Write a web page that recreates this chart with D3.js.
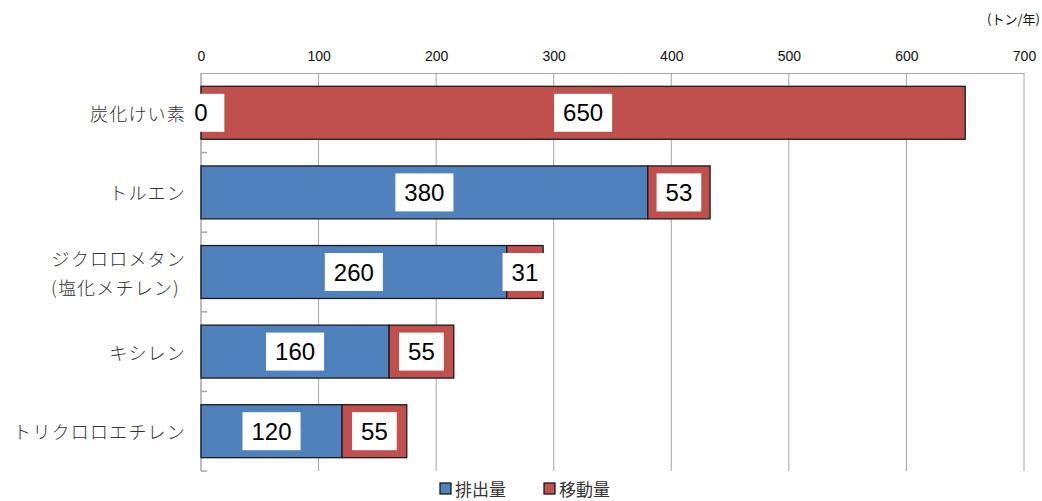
<!DOCTYPE html>
<html><head><meta charset="utf-8">
<script src="https://cdn.jsdelivr.net/npm/d3@7"></script>
<style>
html,body{margin:0;padding:0;background:#fff;}
svg{display:block;}
</style></head>
<body>
<svg id="chart" width="1042" height="501"></svg>
<script>
const categories = ["炭化けい素", "トルエン", "ジクロロメタン\n(塩化メチレン)", "キシレン", "トリクロロエチレン"];
const emissions = [0, 380, 260, 160, 120];
const transfers = [650, 53, 31, 55, 55];
const tickValues = [0, 100, 200, 300, 400, 500, 600, 700];
const seriesNames = ["排出量", "移動量"];
const unitLabel = "(トン/年)";

const colors = ["#4F81BD", "#C0504D"];
const svg = d3.select("#chart");
const margin = {left: 201, right: 18, top: 73, bottom: 30};
const W = 1042, H = 501;
const x = d3.scaleLinear().domain([0, 700]).range([margin.left, W - margin.right]);
const y = d3.scaleBand().domain(d3.range(categories.length)).range([margin.top, H - margin.bottom]).paddingInner(0.335).paddingOuter(0.1675);

const jp = "'Noto Sans CJK JP', 'Noto Sans', sans-serif";
const num = "'Liberation Sans', Arial, sans-serif";

// gridlines
svg.append("g").selectAll("line").data(tickValues.slice(1)).join("line")
  .attr("x1", d => x(d)).attr("x2", d => x(d))
  .attr("y1", margin.top).attr("y2", H - margin.bottom)
  .attr("stroke", "#a6a6a6").attr("stroke-width", 1);

// top axis
const topAxis = d3.axisTop(x).tickValues(tickValues).tickSize(0).tickPadding(12).tickFormat(d3.format("d"));
const gTop = svg.append("g").attr("transform", `translate(0,${margin.top})`).call(topAxis);
gTop.select(".domain").attr("stroke", "#a6a6a6");
gTop.selectAll("text").attr("font-family", num).attr("font-size", 14).attr("fill", "#111");

// left axis line and ticks at band boundaries
const bounds = d3.range(categories.length + 1).map(i => margin.top + i * (H - margin.bottom - margin.top) / categories.length);
svg.append("line").attr("x1", margin.left).attr("x2", margin.left)
  .attr("y1", margin.top).attr("y2", H - margin.bottom).attr("stroke", "#a6a6a6").attr("stroke-width", 1.5);
svg.append("g").selectAll("line").data(bounds.slice(1)).join("line")
  .attr("x1", margin.left).attr("x2", margin.left + 6)
  .attr("y1", d => d).attr("y2", d => d)
  .attr("stroke", "#a6a6a6").attr("stroke-width", 1.5);

// bars
const rows = categories.map((c, i) => ({i, vals: [emissions[i], transfers[i]]}));
const segs = [];
rows.forEach(r => {
  let acc = 0;
  r.vals.forEach((v, s) => { segs.push({i: r.i, s, v, x0: acc, x1: acc + v}); acc += v; });
});
svg.append("g").selectAll("rect").data(segs.filter(d => d.v > 0)).join("rect")
  .attr("x", d => x(d.x0)).attr("width", d => x(d.x1) - x(d.x0))
  .attr("y", d => y(d.i)).attr("height", y.bandwidth())
  .attr("fill", d => colors[d.s]).attr("stroke", "#1a1a1a").attr("stroke-width", 1.3);

// data labels with white boxes
const lab = svg.append("g");
segs.forEach(d => {
  const cx = (x(d.x0) + x(d.x1)) / 2;
  const cy = y(d.i) + y.bandwidth() / 2;
  const g = lab.append("g");
  const rect = g.append("rect").attr("fill", "#fff");
  const t = g.append("text").attr("x", cx).attr("y", cy).attr("text-anchor", "middle")
    .attr("dominant-baseline", "central").attr("font-family", num).attr("font-size", 24)
    .attr("fill", "#000").text(d.v);
  const w = t.node().getComputedTextLength() + 18;
  const rx = d.v === 0 ? cx - 8 : cx - w / 2;
  rect.attr("x", rx).attr("width", w).attr("y", cy - 19).attr("height", 38);
});

// category labels
categories.forEach((c, i) => {
  const lines = c.split("\n");
  const cy = y(i) + y.bandwidth() / 2;
  lines.forEach((ln, k) => {
    svg.append("text").attr("x", 186 - (k > 0 ? 6 : 0))
      .attr("y", cy + (k - (lines.length - 1) / 2) * 29)
      .attr("text-anchor", "end").attr("dominant-baseline", "central")
      .attr("font-family", jp).attr("font-weight", 300).attr("font-size", 18)
      .attr("letter-spacing", 1.2).attr("fill", "#333").text(ln);
  });
});

// unit label
svg.append("text").attr("x", 1040).attr("y", 18).attr("text-anchor", "end")
  .attr("dominant-baseline", "central").attr("font-family", jp).attr("font-size", 13)
  .attr("fill", "#111").text(unitLabel);

// legend
const legX = [440, 544];
seriesNames.forEach((n, s) => {
  svg.append("rect").attr("x", legX[s]).attr("y", 483).attr("width", 11).attr("height", 11)
    .attr("fill", colors[s]).attr("stroke", "#1a1a1a").attr("stroke-width", 1.3);
  svg.append("text").attr("x", legX[s] + 15).attr("y", 488.5).attr("dominant-baseline", "central")
    .attr("font-family", jp).attr("font-size", 17).attr("fill", "#333").text(n);
});
</script>
</body></html>
